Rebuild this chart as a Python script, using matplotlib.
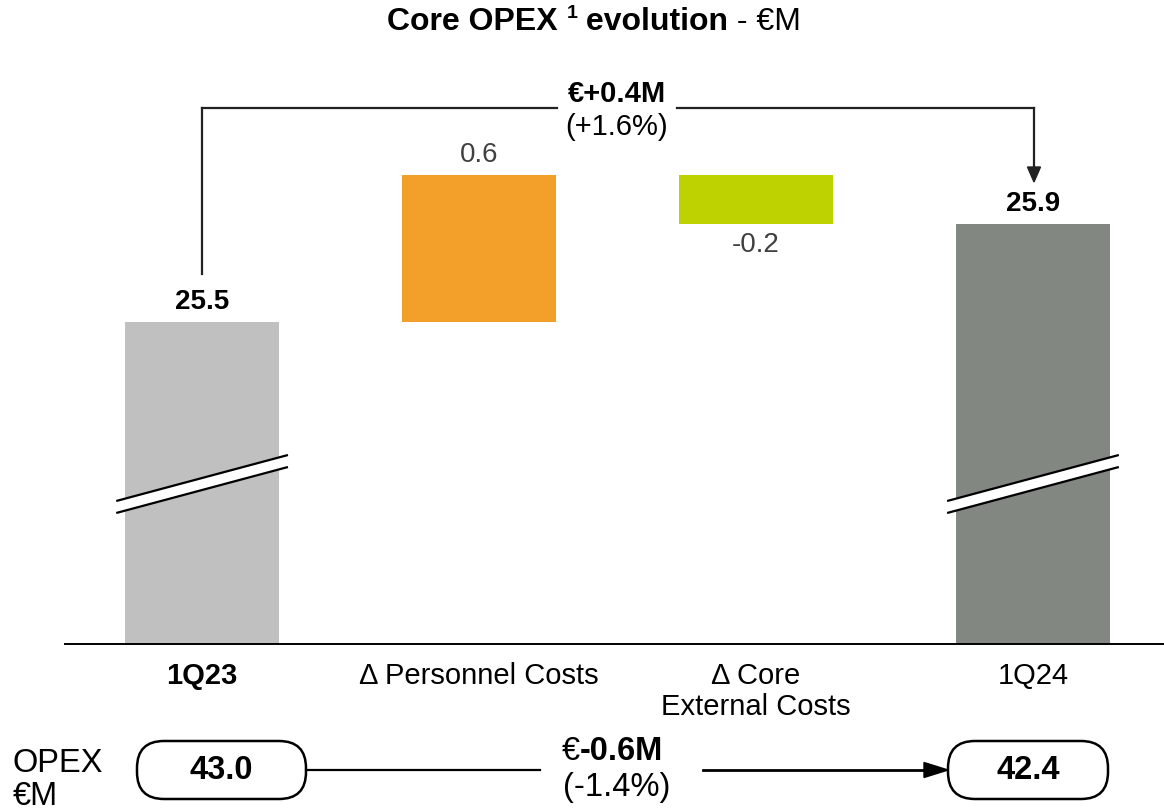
import matplotlib
matplotlib.use("Agg")
import matplotlib.pyplot as plt
from matplotlib.patches import FancyBboxPatch, Polygon, FancyArrow
from matplotlib.lines import Line2D

plt.rcParams['font.family'] = ['Liberation Sans', 'DejaVu Sans']

# ---- data ----
categories = ["1Q23", "Δ Personnel Costs", "Δ Core\nExternal Costs", "1Q24"]
start_value = 25.5
deltas = [0.6, -0.2]
end_value = 25.9
opex_values = [43.0, 42.4]
bar_colors = ["#C0C0C0", "#F2A02A", "#BDD200", "#828782"]

W, H = 1164, 812
fig = plt.figure(figsize=(W / 100, H / 100), dpi=100)

def fx(px):
    return px / W

def fy(py):
    return 1 - py / H

px_unit = 245.0
y_base = start_value - (645 - 323) / px_unit
y_top = y_base + (645 - 60) / px_unit
ax = fig.add_axes([fx(65), fy(645), fx(1164) - fx(65), fy(60) - fy(645)])
ax.set_xlim(-0.495, 3.473)
ax.set_ylim(y_base, y_top)
for s in ["left", "right", "top"]:
    ax.spines[s].set_visible(False)
ax.spines["bottom"].set_linewidth(1.4)
ax.spines["bottom"].set_color("black")
ax.set_yticks([])

x = list(range(len(categories)))
bw = 0.556
FS = 21
FB = 23.5

# totals
ax.bar(x[0], start_value - y_base, bottom=y_base, width=bw, color=bar_colors[0])
ax.bar(x[3], end_value - y_base, bottom=y_base, width=bw, color=bar_colors[3])
# deltas
level = start_value
for i, d in enumerate(deltas):
    ax.bar(x[i + 1], d, bottom=level, width=bw, color=bar_colors[i + 1])
    if d >= 0:
        ax.annotate(f"{d:.1f}", (x[i + 1], level + d), xytext=(0, 6), textcoords="offset points",
                    ha="center", va="bottom", fontsize=FS - 1, color="#404040")
    else:
        ax.annotate(f"{d:.1f}", (x[i + 1], level + d), xytext=(0, -5), textcoords="offset points",
                    ha="center", va="top", fontsize=FS - 1, color="#404040")
    level += d

for xi, v in [(x[0], start_value), (x[3], end_value)]:
    ax.annotate(f"{v:.1f}", (xi, v), xytext=(0, 6), textcoords="offset points",
                ha="center", va="bottom", fontsize=FS - 1, fontweight="bold", color="black")

# axis break marks
def pv(py):
    return y_base + (645 - py) / px_unit
for xi in [x[0], x[3]]:
    x0, x1 = xi - 0.31, xi + 0.31
    ya0, ya1 = pv(502), pv(456)
    yb0, yb1 = pv(514), pv(468)
    ax.add_patch(Polygon([[x0, ya0], [x1, ya1], [x1, yb1], [x0, yb0]], closed=True,
                         facecolor="white", edgecolor="none", zorder=3))
    ax.plot([x0, x1], [ya0, ya1], color="black", lw=1.6, zorder=4, solid_capstyle="butt")
    ax.plot([x0, x1], [yb0, yb1], color="black", lw=1.6, zorder=4, solid_capstyle="butt")

# category labels
ax.set_xticks(x)
ax.set_xticklabels(categories, fontsize=FS, linespacing=1.15)
ax.tick_params(axis="x", length=0, pad=12)
ax.get_xticklabels()[0].set_fontweight("bold")

# title
fig.canvas.draw()
r = fig.canvas.get_renderer()
t1 = fig.text(fx(387), fy(22), "Core OPEX ", ha="left", va="center", fontsize=23, fontweight="bold")
bb = t1.get_window_extent(r)
t2 = fig.text(bb.x1 / W, fy(13), "1", ha="left", va="center", fontsize=14, fontweight="bold")
bb2 = t2.get_window_extent(r)
t3 = fig.text(bb2.x1 / W, fy(22), " evolution", ha="left", va="center", fontsize=23, fontweight="bold")
bb3 = t3.get_window_extent(r)
fig.text(bb3.x1 / W, fy(22), " - €M", ha="left", va="center", fontsize=23)

# top bracket
diff = end_value - start_value
pct = diff / start_value * 100
lc = "#222222"
yb = 109
fig.add_artist(Line2D([fx(202), fx(202)], [fy(275), fy(yb)], color=lc, lw=1.6))
fig.add_artist(Line2D([fx(202), fx(557)], [fy(yb), fy(yb)], color=lc, lw=1.6))
fig.add_artist(Line2D([fx(677), fx(1034)], [fy(yb), fy(yb)], color=lc, lw=1.6))
fig.add_artist(Line2D([fx(1034), fx(1034)], [fy(yb), fy(170)], color=lc, lw=1.6))
fig.patches.append(FancyArrow(fx(1034), fy(168), 0, -(15 / H), width=0,
                   head_width=fx(13), head_length=15 / H, length_includes_head=True,
                   color=lc, transform=fig.transFigure, figure=fig))
fig.text(fx(617), fy(94), f"€{diff:+.1f}M", ha="center", va="center", fontsize=FS, fontweight="bold")
fig.text(fx(617), fy(127), f"({pct:+.1f}%)", ha="center", va="center", fontsize=FS)

# bottom OPEX row
fig.text(fx(13), fy(764), "OPEX", ha="left", va="center", fontsize=FB)
fig.text(fx(13), fy(797), "€M", ha="left", va="center", fontsize=FB)
for (l, rgt), v in zip([(137, 306), (948, 1108)], opex_values):
    box = FancyBboxPatch((l / 100, (H - 800) / 100), (rgt - l) / 100, 0.58,
                         boxstyle="round,pad=0,rounding_size=0.27", transform=fig.dpi_scale_trans,
                         facecolor="white", edgecolor="black", lw=1.8)
    fig.patches.append(box)
    fig.text(fx((l + rgt) / 2), fy(771), f"{v:.1f}", ha="center", va="center", fontsize=FB, fontweight="bold")

odiff = opex_values[1] - opex_values[0]
opct = odiff / opex_values[0] * 100
fig.add_artist(Line2D([fx(306), fx(540)], [fy(771), fy(771)], color="black", lw=1.6))
fig.add_artist(Line2D([fx(703), fx(930)], [fy(771), fy(771)], color="black", lw=2.0))
fig.patches.append(FancyArrow(fx(924), fy(771), fx(24), 0, width=0,
                   head_width=15 / H, head_length=fx(24), length_includes_head=True,
                   color="black", transform=fig.transFigure, figure=fig))
fig.text(fx(580), fy(752), "€", ha="right", va="center", fontsize=FB)
fig.text(fx(580), fy(752), f"{odiff:.1f}M", ha="left", va="center", fontsize=FB, fontweight="bold")
fig.text(fx(617), fy(788), f"({opct:.1f}%)", ha="center", va="center", fontsize=FB)

fig.savefig("out.png", dpi=100)
